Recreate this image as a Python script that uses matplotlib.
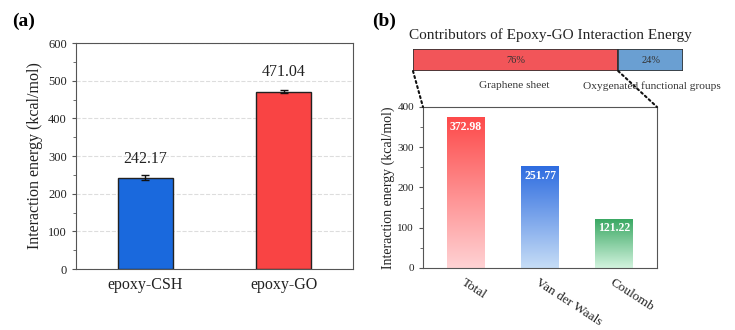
import numpy as np
import matplotlib
matplotlib.use("Agg")
import matplotlib.pyplot as plt
from matplotlib.colors import LinearSegmentedColormap
from matplotlib.patches import ConnectionPatch
from matplotlib.transforms import ScaledTranslation

plt.rcParams['font.family'] = ['Liberation Serif', 'DejaVu Serif']
plt.rcParams['axes.edgecolor'] = '#555555'
plt.rcParams['xtick.color'] = '#555555'
plt.rcParams['ytick.color'] = '#555555'
plt.rcParams['xtick.labelcolor'] = '#222222'
plt.rcParams['ytick.labelcolor'] = '#222222'

# (a) epoxy interaction energy
systems = ['epoxy-CSH', 'epoxy-GO']
energy = [242.17, 471.04]
energy_err = [6.5, 4.0]
sys_colors = ['#1a69dd', '#f94444']

# (b) contributions for epoxy-GO
share_labels = ['Graphene sheet', 'Oxygenated functional groups']
share_pct = [76, 24]
share_colors = ['#f25559', '#6a9fd2']

terms = ['Total', 'Van der Waals', 'Coulomb']
term_energy = [372.98, 251.77, 121.22]
term_top = ['#fd4a4a', '#2e6ce0', '#3aa863']
term_bottom = ['#ffd2d4', '#c6ddf6', '#d2f3de']

fig = plt.figure(figsize=(7.35, 3.30), dpi=100)

# ---- panel (a)
ax = fig.add_axes([0.1034, 0.1848, 0.3769, 0.6848])
x = np.arange(len(systems))
ax.bar(x, energy, width=0.4, color=sys_colors, edgecolor='#222222', linewidth=1.0,
       yerr=energy_err, capsize=3, error_kw=dict(elinewidth=1.0, capthick=1.0, ecolor='#111111'),
       zorder=3)
for xi, v in zip(x, energy):
    ax.text(xi, v + 30, f'{v:.2f}', ha='center', va='bottom', fontsize=11.5, color='#222222')
ax.set_xlim(-0.5, 1.5)
ax.set_ylim(0, 600)
ax.set_yticks(np.arange(0, 601, 100))
ax.set_yticks(np.arange(0, 601, 50), minor=True)
ax.set_xticks(x)
ax.set_xticklabels(systems, fontsize=11.5)
ax.tick_params(axis='y', labelsize=9, length=3)
ax.tick_params(axis='y', which='minor', length=2)
ax.tick_params(axis='x', length=0, pad=6)
ax.yaxis.grid(True, linestyle='--', color='#dddddd', linewidth=0.8, zorder=0)
ax.set_axisbelow(True)
ax.set_ylabel('Interaction energy (kcal/mol)', fontsize=11.5, color='#222222')
fig.text(0.016, 0.935, '(a)', fontsize=14, fontweight='bold', va='center')

# ---- panel (b): share bar
axt = fig.add_axes([0.5619, 0.7848, 0.3673, 0.0667])
left = 0
for pct, col in zip(share_pct, share_colors):
    axt.barh(0, pct, left=left, height=1.0, color=col, edgecolor='#333333', linewidth=1.2)
    axt.text(left + pct / 2, 0, f'{pct}%', ha='center', va='center', fontsize=7.5, color='#333333')
    left += pct
axt.set_xlim(0, 100)
axt.set_ylim(-0.5, 0.5)
axt.axis('off')

fig.text(0.7490, 0.894, 'Contributors of Epoxy-GO Interaction Energy', ha='center', va='center',
         fontsize=11, color='#222222')
fig.text(514 / 735, 1 - 86 / 330, share_labels[0], ha='center', va='center', fontsize=8.2, color='#333333')
fig.text(652 / 735, 1 - 86 / 330, share_labels[1], ha='center', va='center', fontsize=8.2, color='#333333')
fig.text(0.506, 0.935, '(b)', fontsize=14, fontweight='bold', va='center')

# ---- panel (b): gradient bars
axb = fig.add_axes([0.5755, 0.1879, 0.3184, 0.4879])
xb = np.arange(len(terms))
w = 0.51
for xi, v, c1, c2 in zip(xb, term_energy, term_top, term_bottom):
    cmap = LinearSegmentedColormap.from_list('g', [c2, c1])
    grad = np.linspace(0, 1, 256).reshape(-1, 1)
    axb.imshow(grad, cmap=cmap, origin='lower', aspect='auto',
               extent=[xi - w / 2, xi + w / 2, 0, v], zorder=2)
    axb.text(xi, v - 8, f'{v:.2f}', ha='center', va='top', fontsize=8.5,
             fontweight='bold', color='white', zorder=3)
axb.set_xlim(-0.58, 2.58)
axb.set_ylim(0, 400)
axb.set_yticks(np.arange(0, 401, 100))
axb.set_yticks(np.arange(0, 401, 50), minor=True)
axb.set_xticks(xb)
axb.set_xticklabels(terms, rotation=-33, ha='left', va='top', rotation_mode='anchor', fontsize=9.5)
shift = ScaledTranslation(-5 / 100, 0, fig.dpi_scale_trans)
for lbl in axb.get_xticklabels():
    lbl.set_transform(lbl.get_transform() + shift)
axb.tick_params(axis='y', labelsize=8, length=3)
axb.tick_params(axis='y', which='minor', length=2)
axb.tick_params(axis='x', length=0, pad=6)
axb.set_ylabel('Interaction energy (kcal/mol)', fontsize=10, color='#222222', labelpad=2)

# dotted zoom lines from the share bar down to the lower axes
for xa, xd in [(0, 0), (share_pct[0], 1)]:
    con = ConnectionPatch(xyA=(xa, -0.5), coordsA=axt.transData,
                          xyB=(xd, 1), coordsB=axb.transAxes,
                          linestyle=(0, (1, 1.5)), color='#111111', linewidth=1.5)
    fig.add_artist(con)

fig.savefig('out.png', dpi=100)
